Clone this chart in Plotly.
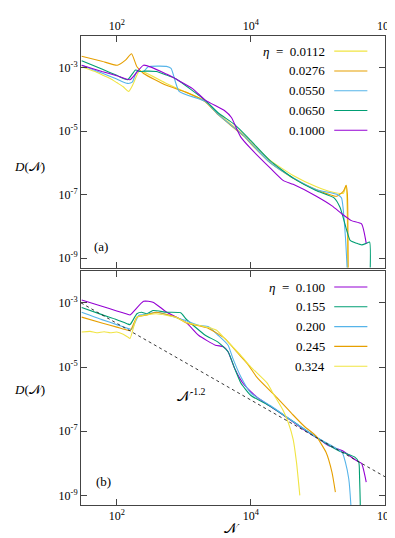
import plotly.graph_objects as go

# colours (gnuplot default palette)
YELLOW = "#f0e442"
ORANGE = "#e69f00"
BLUE = "#56b4e9"
GREEN = "#009e73"
PURPLE = "#9400d3"

# ---------- panel (a) ----------
eta_a = ["0.0112", "0.0276", "0.0550", "0.0650", "0.1000"]

n_a_0112 = [30, 40, 50, 62, 80, 100, 125, 151, 175, 214, 251, 550, 1070, 2090, 3240, 7940, 1e4,
            19500, 42700, 93300, 162000, 240000, 263000, 275000, 282000]
d_a_0112 = [1.07e-3, 8.6e-4, 7.2e-4, 5.8e-4, 4.6e-4, 3.4e-4, 2.5e-4, 1.8e-4, 3.0e-4, 7.6e-4, 7.4e-4,
            3.2e-4, 1.7e-4, 8.9e-5, 3.6e-5, 7.4e-6, 4.5e-6, 1.2e-6, 4.0e-7, 1.8e-7, 1.2e-7, 1.1e-7,
            1.95e-7, 1.3e-8, 1e-10]

n_a_0276 = [30, 60, 102, 135, 166, 200, 251, 550, 1070, 2090, 3240, 7940, 1e4, 19500, 42700, 93300,
            191000, 240000, 263000, 275000, 282000]
d_a_0276 = [2.29e-3, 1.6e-3, 1.2e-3, 1.74e-3, 2.75e-3, 1.07e-3, 6.6e-4, 2.8e-4, 1.7e-4, 8.5e-5, 3.3e-5,
            6.8e-6, 4.0e-6, 1.0e-6, 3.3e-7, 1.45e-7, 8.9e-8, 1.29e-7, 1.95e-7, 1.02e-7, 1e-10]

n_a_0550 = [30, 60, 100, 145, 170, 200, 251, 295, 550, 646, 851, 2090, 3240, 7940, 1e4, 19500, 42700,
            93300, 191000, 224000, 257000, 282000]
d_a_0550 = [1.2e-3, 6.8e-4, 4.4e-4, 3.2e-4, 3.5e-4, 7.6e-4, 7.6e-4, 1.07e-3, 1.1e-3, 9.5e-4, 1.8e-4,
            8.7e-5, 3.4e-5, 7.0e-6, 4.2e-6, 1.0e-6, 3.4e-7, 1.45e-7, 1.02e-7, 7.9e-8, 4.6e-9, 1e-10]

n_a_0650 = [30, 60, 100, 145, 191, 224, 260, 389, 550, 759, 2090, 3240, 5750, 1e4, 19500, 42700, 93300,
            174000, 214000, 269000, 302000, 380000, 450000, 525000, 589000, 590000]
d_a_0650 = [1.66e-3, 9.1e-4, 5.75e-4, 4.2e-4, 8.5e-4, 7.6e-4, 7.8e-4, 7.6e-4, 5.9e-4, 4.5e-4, 9.3e-5,
            3.8e-5, 1.6e-5, 5.0e-6, 1.15e-6, 3.3e-7, 1.35e-7, 7.9e-8, 3.9e-8, 7.4e-9, 3.6e-9, 2.9e-9,
            2.6e-9, 2.9e-9, 3.2e-9, 1e-10]

n_a_1000 = [30, 60, 100, 158, 251, 550, 1350, 2090, 4070, 5130, 6310, 7080, 1e4, 19500, 30200, 42700,
            93300, 162000, 229000, 316000, 447000, 525000]
d_a_1000 = [1.2e-3, 7.6e-4, 5.6e-4, 4.2e-4, 1.2e-3, 6.3e-4, 2.2e-4, 9.5e-5, 4.4e-5, 2.7e-5, 1.05e-5,
            6.5e-6, 2.8e-6, 6.8e-7, 2.8e-7, 2.1e-7, 9.0e-8, 4.4e-8, 2.45e-8, 1.51e-8, 1.2e-8, 2.9e-9]

# ---------- panel (b) ----------
eta_b = ["0.100", "0.155", "0.200", "0.245", "0.324"]

n_b_100 = [30, 60, 100, 145, 158, 251, 347, 550, 1070, 1660, 2950, 3890, 4570, 5750, 7940, 12600,
           27500, 60300, 105000, 145000, 229000, 316000, 380000, 447000, 525000]
d_b_100 = [1.23e-3, 7.9e-4, 5.6e-4, 4.4e-4, 4.2e-4, 1.12e-3, 1.05e-3, 5.2e-4, 2.5e-4, 9.8e-5, 4.8e-5,
           4.3e-5, 3.0e-5, 8.9e-6, 2.8e-6, 1.1e-6, 3.7e-7, 1.15e-7, 5.6e-8, 3.5e-8, 2.5e-8, 1.55e-8,
           1.2e-8, 1.0e-8, 2.6e-9]

n_b_155 = [30, 60, 100, 145, 158, 200, 234, 282, 347, 550, 900, 1070, 2090, 3240, 4570, 5750, 7080,
           1e4, 19500, 42700, 93300, 204000, 355000, 407000, 417000, 427000, 432000]
d_b_155 = [7.2e-4, 4.3e-4, 3.0e-4, 2.2e-4, 2.1e-4, 4.6e-4, 5.1e-4, 4.6e-4, 5.75e-4, 5.1e-4, 4.9e-4,
           3.2e-4, 9.8e-5, 6.0e-5, 3.0e-5, 8.9e-6, 3.2e-6, 1.3e-6, 6.0e-7, 2.0e-7, 6.6e-8, 2.45e-8,
           1.55e-8, 1.07e-8, 4.2e-9, 6.3e-10, 1e-10]

n_b_200 = [30, 60, 100, 145, 166, 214, 282, 389, 1070, 1660, 2340, 3240, 4570, 5370, 7080, 1e4, 19500,
           42700, 93300, 229000, 257000, 288000, 309000, 320000]
d_b_200 = [5.1e-4, 3.0e-4, 2.1e-4, 1.6e-4, 1.5e-4, 4.1e-4, 4.4e-4, 5.1e-4, 2.8e-4, 2.0e-4, 1.8e-4,
           9.8e-5, 4.8e-5, 1.9e-5, 5.0e-6, 1.55e-6, 6.3e-7, 2.0e-7, 6.6e-8, 2.2e-8, 1.07e-8, 3.3e-9,
           5.5e-10, 1e-10]

n_b_245 = [30, 60, 100, 145, 160, 200, 282, 389, 759, 1070, 2340, 4070, 6310, 8910, 12600, 24500,
           42700, 63100, 93300, 132000, 162000, 182000]
d_b_245 = [3.6e-4, 2.35e-4, 1.75e-4, 1.4e-4, 1.38e-4, 3.6e-4, 4.2e-4, 5.1e-4, 3.6e-4, 2.4e-4, 1.6e-4,
           7.8e-5, 2.8e-5, 1.26e-5, 4.5e-6, 1.12e-6, 3.2e-7, 1.4e-7, 7.1e-8, 2.2e-8, 5.2e-9, 1.26e-9]

n_b_324 = [30, 40, 50, 65, 80, 100, 125, 145, 158, 200, 251, 389, 759, 1070, 2630, 3090, 4570, 7080,
           1e4, 17400, 21900, 30200, 36300, 42700, 47900, 53700]
d_b_324 = [1.23e-4, 1.29e-4, 1.17e-4, 1.26e-4, 1.17e-4, 1.23e-4, 1.05e-4, 8.7e-5, 7.8e-5, 3.6e-4,
           4.1e-4, 4.6e-4, 3.55e-4, 2.5e-4, 1.6e-4, 1.4e-4, 6.0e-5, 2.3e-5, 1.0e-5, 3.2e-6, 1.4e-6,
           4.5e-7, 1.8e-7, 5.6e-8, 1.07e-8, 1.0e-9]

# power law guide N^-1.2
fit_n = [29.3, 1e6]
fit_d = [1.0e-3, 3.8e-9]

x_ticks = [1e2, 1e4, 1e6]
x_ticktext = ["10<sup>2</sup>", "10<sup>4</sup>", "10<sup>6</sup>"]
y_ticks = [1e-9, 1e-7, 1e-5, 1e-3]
y_ticktext = ["10<sup>-9</sup>", "10<sup>-7</sup>", "10<sup>-5</sup>", "10<sup>-3</sup>"]

FONT = "Liberation Serif, DejaVu Serif, serif"

fig = go.Figure()


def add_curve(n, d, color, xa, ya, dash="solid", width=1.1, shape="spline"):
    fig.add_trace(go.Scatter(
        x=n, y=d, mode="lines", xaxis=xa, yaxis=ya,
        line=dict(color=color, width=width, dash=dash, shape=shape, smoothing=0.5),
        showlegend=False, hoverinfo="skip",
    ))


# panel (a): first listed drawn first
curves_a = [(n_a_0112, d_a_0112, YELLOW), (n_a_0276, d_a_0276, ORANGE), (n_a_0550, d_a_0550, BLUE),
            (n_a_0650, d_a_0650, GREEN), (n_a_1000, d_a_1000, PURPLE)]
for n, d, c in curves_a:
    add_curve(n, d, c, "x", "y")

curves_b = [(n_b_100, d_b_100, PURPLE), (n_b_155, d_b_155, GREEN), (n_b_200, d_b_200, BLUE),
            (n_b_245, d_b_245, ORANGE), (n_b_324, d_b_324, YELLOW)]
for n, d, c in curves_b:
    add_curve(n, d, c, "x2", "y2")
add_curve(fit_n, fit_d, "#222222", "x2", "y2", dash="3px,3px", width=0.9, shape="linear")

axis_common = dict(
    type="log", showgrid=False, zeroline=False, showline=True, linecolor="#444", linewidth=1,
    mirror="ticks", ticks="inside", ticklen=6, tickcolor="#444", tickwidth=1,
    tickfont=dict(family=FONT, size=12, color="black"),
)

fig.update_layout(
    width=395, height=538,
    margin=dict(l=73, r=10, t=23, b=41),
    paper_bgcolor="white", plot_bgcolor="white",
    font=dict(family=FONT, color="black"),
    xaxis=dict(axis_common, range=[1.467, 6], domain=[0, 1], anchor="y", side="top",
               tickvals=x_ticks, ticktext=x_ticktext),
    yaxis=dict(axis_common, range=[-9.3, -2.0], domain=[0.5063, 1], anchor="x",
               tickvals=y_ticks, ticktext=y_ticktext),
    xaxis2=dict(axis_common, range=[1.467, 6], domain=[0, 1], anchor="y2", side="bottom",
                tickvals=x_ticks, ticktext=x_ticktext),
    yaxis2=dict(axis_common, range=[-9.3, -2.0], domain=[0, 0.4994], anchor="x2",
                tickvals=y_ticks, ticktext=y_ticktext),
)

# legends drawn gnuplot style: label on the left, sample line on the right
rows_a = [0.9677, 0.9255, 0.8833, 0.8411, 0.7989]
rows_b = [0.4648, 0.4226, 0.3804, 0.3382, 0.2960]
colors_a = [YELLOW, ORANGE, BLUE, GREEN, PURPLE]
colors_b = [PURPLE, GREEN, BLUE, ORANGE, YELLOW]

for labels, rows, cols in [(eta_a, rows_a, colors_a), (eta_b, rows_b, colors_b)]:
    for i, (lab, yy, c) in enumerate(zip(labels, rows, cols)):
        txt = ("<i>η</i>&nbsp;&nbsp;=&nbsp;&nbsp;" + lab) if i == 0 else lab
        fig.add_annotation(x=0.8077, y=yy, xref="paper", yref="paper", text=txt,
                           showarrow=False, xanchor="right", yanchor="middle",
                           font=dict(family=FONT, size=13))
        fig.add_shape(type="line", xref="paper", yref="paper", x0=0.833, x1=0.942, y0=yy, y1=yy,
                      line=dict(color=c, width=1.1))

# axis titles and panel labels
for yy in [0.7215, 0.2468]:
    fig.add_annotation(x=-0.17, y=yy, xref="paper", yref="paper", text="<i>D</i>(𝒩)",
                       showarrow=False, xanchor="center", yanchor="middle",
                       font=dict(family=FONT, size=13))
fig.add_annotation(x=0.497, y=-0.05, xref="paper", yref="paper", text="𝒩",
                   showarrow=False, xanchor="center", yanchor="middle", font=dict(family=FONT, size=14))
fig.add_annotation(x=0.0673, y=0.5506, xref="paper", yref="paper", text="(a)",
                   showarrow=False, xanchor="center", yanchor="middle", font=dict(family=FONT, size=13))
fig.add_annotation(x=0.0737, y=0.0506, xref="paper", yref="paper", text="(b)",
                   showarrow=False, xanchor="center", yanchor="middle", font=dict(family=FONT, size=13))
fig.add_annotation(x=0.365, y=0.235, xref="paper", yref="paper", text="𝒩<sup>-1.2</sup>",
                   showarrow=False, xanchor="center", yanchor="middle", font=dict(family=FONT, size=14))

fig.write_html("out.html")
